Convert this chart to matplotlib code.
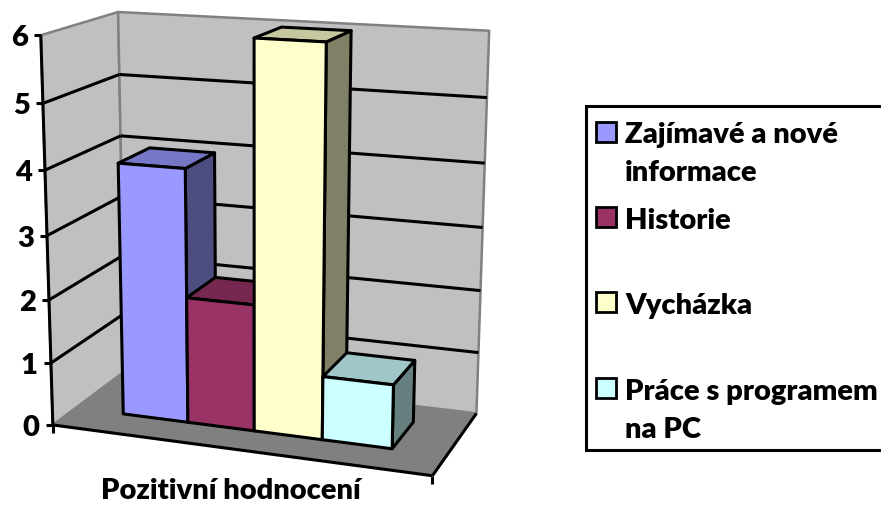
import numpy as np
import matplotlib
matplotlib.use("Agg")
import matplotlib.pyplot as plt
from matplotlib.patches import Polygon, Rectangle

categories = ["Zajímavé a nové\ninformace", "Historie", "Vycházka", "Práce s programem\nna PC"]
values = [4, 2, 6, 1]
colors = ["#9999FF", "#993366", "#FFFFCC", "#CCFFFF"]
y_ticks = [0, 1, 2, 3, 4, 5, 6]
x_title = "Pozitivní hodnocení"

ZMAX = 6
FS = 21
plt.rcParams["font.family"] = ["Lato", "DejaVu Sans"]

fig = plt.figure(figsize=(8.81, 5.06), dpi=100)
ax = fig.add_axes([0, 0, 1, 1])
ax.set_xlim(0, 881)
ax.set_ylim(506, 0)
ax.axis("off")

# Perspective camera fitted to the corners of the chart box
anchors = [((0, 0, 0), (54, 425)), ((0, 0, 6), (40, 36)), ((0, 1, 0), (124, 373)),
           ((0, 1, 6), (119, 13)), ((1, 1, 0), (477, 413)), ((1, 1, 6), (489, 32)),
           ((1, 0, 0), (432, 478))]
A, b = [], []
for (X, D, Z), (u, v) in anchors:
    A.append([X, D, Z, 1, 0, 0, 0, 0, -u * X, -u * D, -u * Z]); b.append(u)
    A.append([0, 0, 0, 0, X, D, Z, 1, -v * X, -v * D, -v * Z]); b.append(v)
P = np.append(np.linalg.lstsq(np.array(A, float), np.array(b, float), rcond=None)[0], 1).reshape(3, 4)


def pr(x, d, z):
    h = P @ np.array([x, d, z, 1.0])
    return h[0] / h[2], h[1] / h[2]


def poly(pts, fc, ec="black", lw=2.2, z=1):
    ax.add_patch(Polygon([pr(*p) for p in pts], closed=True, fc=fc, ec=ec, lw=lw, joinstyle="round", zorder=z))


def seg(p, q, color="black", lw=2.2, z=2):
    a, c = pr(*p), pr(*q)
    ax.plot([a[0], c[0]], [a[1], c[1]], color=color, lw=lw, solid_capstyle="butt", zorder=z)


def shade(c, f):
    return tuple(f * v for v in matplotlib.colors.to_rgb(c))


# walls and floor
poly([(0, 0, 0), (0, 1, 0), (0, 1, ZMAX), (0, 0, ZMAX)], "#C0C0C0", ec="#808080", lw=1.8)
poly([(0, 1, 0), (1, 1, 0), (1, 1, ZMAX), (0, 1, ZMAX)], "#C0C0C0", ec="#808080", lw=1.8)
poly([(0, 0, 0), (1, 0, 0), (1, 1, 0), (0, 1, 0)], "#808080", ec="#808080", lw=1)

# gridlines
for t in y_ticks[1:-1]:
    seg((0, 0, t), (0, 1, t))
    seg((0, 1, t), (1, 1, t))

# axes lines and ticks
seg((0, 0, 0), (0, 0, ZMAX), z=3)
seg((0, 0, 0), (1, 0, 0), z=3)
seg((1, 0, 0), (1, 1, 0), z=3)
for t in y_ticks:
    u, v = pr(0, 0, t)
    ax.plot([u - 7, u], [v, v], color="black", lw=2.2, solid_capstyle="butt", zorder=3)
    ax.text(u - 13, v + 10, str(t), ha="right", va="baseline", fontsize=FS, fontweight="heavy", color="black")
for xe in (0, 1):
    u, v = pr(xe, 0, 0)
    ax.plot([u, u], [v, v + 8], color="black", lw=2.2, solid_capstyle="butt", zorder=3)

# bars
X0, X1 = 0.136, 0.862
D0, D1 = 0.30, 0.74
n = len(values)
bw = (X1 - X0) / n
for i, (val, col) in enumerate(zip(values, colors)):
    a, c = X0 + i * bw, X0 + (i + 1) * bw
    zo = 5 + i
    poly([(c, D0, 0), (c, D1, 0), (c, D1, val), (c, D0, val)], shade(col, 0.5), z=zo)
    poly([(a, D0, val), (c, D0, val), (c, D1, val), (a, D1, val)], shade(col, 0.78), z=zo)
    poly([(a, D0, 0), (c, D0, 0), (c, D0, val), (a, D0, val)], col, z=zo)

ax.text(231, 499, x_title, ha="center", va="baseline", fontsize=FS, fontweight="heavy", color="black")

# legend
ax.add_patch(Rectangle((586, 107), 330, 344, fc="white", ec="black", lw=2.2, zorder=1))
swatch_tops = [123, 208, 293, 379]
first_baselines = [143, 229, 314, 400]
for top, base, lab, col in zip(swatch_tops, first_baselines, categories, colors):
    ax.add_patch(Rectangle((596, top), 20, 20, fc=col, ec="black", lw=2, zorder=4))
    for k, line in enumerate(lab.split("\n")):
        ax.text(625, base + k * 38, line, ha="left", va="baseline", fontsize=FS, fontweight="heavy", color="black")

fig.savefig("out.png", dpi=100)
